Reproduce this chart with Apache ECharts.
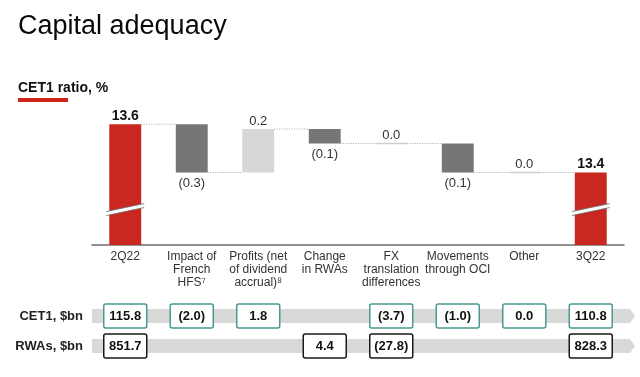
<!DOCTYPE html>
<html>
<head>
<meta charset="utf-8">
<script src="https://cdn.jsdelivr.net/npm/echarts@6/dist/echarts.min.js"></script>
<style>
  html, body { margin: 0; padding: 0; background: #fff; }
  #main { width: 640px; height: 377px; }
</style>
</head>
<body>
<div id="main"></div>
<script>
// categories of the bridge
var categories = ['2Q22', 'Impact of\nFrench\nHFS\u2077', 'Profits (net\nof dividend\naccrual)\u2078',
	'Change\nin RWAs', 'FX\ntranslation\ndifferences', 'Movements\nthrough OCI', 'Other', '3Q22'];
// level reached after each step (as drawn, axis is broken)
var levels = [13.60, 13.30, 13.57, 13.48, 13.48, 13.30, 13.30, 13.30];
var kinds = ['total', 'down', 'up', 'down', 'flat', 'down', 'flat', 'total'];
var ratioLabels = ['13.6', '(0.3)', '0.2', '(0.1)', '0.0', '(0.1)', '0.0', '13.4'];
// table rows
var rowNames = ['CET1, $bn', 'RWAs, $bn'];
var cet1 = ['115.8', '(2.0)', '1.8', '', '(3.7)', '(1.0)', '0.0', '110.8'];
var rwas = ['851.7', '', '', '4.4', '(27.8)', '', '', '828.3'];

var FONT = '"Liberation Sans", Arial, sans-serif';
var axisMin = 12.85, axisMax = 13.75, breakAt = 13.07;
var colors = { total: '#c8281f', down: '#767676', up: '#d7d7d7', flat: '#cfcfcf' };

var bridgeData = [];
for (var i = 0; i < levels.length; i++) {
	var from = kinds[i] == 'total' ? axisMin : levels[i - 1];
	bridgeData.push([i, Math.min(from, levels[i]), Math.max(from, levels[i])]);
}

var tableData = [];
var tableText = [];
for (var i = 0; i < categories.length; i++) {
	if (cet1[i] !== '') { tableData.push([i, 0]); tableText.push(cet1[i]); }
	if (rwas[i] !== '') { tableData.push([i, 1]); tableText.push(rwas[i]); }
}

function renderBridge(params, api) {
	var i = api.value(0);
	var lo = api.value(1), hi = api.value(2);
	var kind = kinds[i];
	var band = api.size([1, 0])[0];
	var bw = band * 0.48;
	var top = api.coord([i, hi]);
	var bot = api.coord([i, lo]);
	var cx = top[0];
	var children = [];
	// dotted connector to next bar
	if (i < levels.length - 1) {
		var yl = api.coord([i, levels[i]])[1];
		children.push({
			type: 'line', silent: true,
			shape: { x1: cx + bw / 2, y1: yl, x2: cx + band - bw / 2, y2: yl },
			style: { stroke: '#a8a8a8', lineWidth: 1, lineDash: [1, 1.5] }
		});
	}
	if (kind == 'flat') {
		children.push({
			type: 'rect',
			shape: { x: cx - bw / 2, y: top[1] - 0.75, width: bw, height: 1.5 },
			style: { fill: colors.flat }
		});
	} else {
		children.push({
			type: 'rect',
			shape: { x: cx - bw / 2, y: top[1], width: bw, height: bot[1] - top[1] },
			style: { fill: colors[kind] }
		});
	}
	if (kind == 'total') {
		var yb = api.coord([i, breakAt])[1];
		var xl = cx - bw / 2 - 3, xr = cx + bw / 2 + 3;
		children.push({
			type: 'polygon',
			shape: { points: [[xl, yb + 2], [xr, yb - 6], [xr, yb - 2], [xl, yb + 6]] },
			style: { fill: '#fff' }
		});
		children.push({
			type: 'line',
			shape: { x1: xl, y1: yb + 2, x2: xr, y2: yb - 6 },
			style: { stroke: '#6a6a6a', lineWidth: 0.8 }
		});
		children.push({
			type: 'line',
			shape: { x1: xl, y1: yb + 6, x2: xr, y2: yb - 2 },
			style: { stroke: '#6a6a6a', lineWidth: 0.8 }
		});
	}
	// value label: above for up/flat/total, below for down
	var below = kind == 'down';
	children.push({
		type: 'text',
		style: {
			text: ratioLabels[i],
			x: cx,
			y: below ? bot[1] + 11 : top[1] - 8,
			align: 'center', verticalAlign: 'middle',
			font: (kind == 'total' ? 'bold 14px ' : '13px ') + FONT,
			fill: kind == 'total' ? '#111' : '#333'
		}
	});
	return { type: 'group', children: children };
}

function renderBand(params, api) {
	var cs = params.coordSys;
	var y = api.coord([0, api.value(1)])[1];
	var x0 = cs.x, x1 = cs.x + cs.width + 6;
	return {
		type: 'polygon', silent: true,
		shape: { points: [[x0, y - 7], [x1, y - 7], [x1 + 5, y], [x1, y + 7], [x0, y + 7]] },
		style: { fill: '#d9d9d9' }
	};
}

function renderBox(params, api) {
	var p = api.coord([api.value(0), api.value(1)]);
	var row = api.value(1);
	var w = 43, h = 24;
	return {
		type: 'group',
		children: [{
			type: 'rect',
			shape: { x: p[0] - w / 2, y: p[1] - h / 2, width: w, height: h, r: 2 },
			style: { fill: '#fff', stroke: row == 0 ? '#4a9891' : '#1a1a1a', lineWidth: 1.5 }
		}, {
			type: 'text',
			style: {
				text: tableText[params.dataIndex],
				x: p[0], y: p[1] + 0.5, align: 'center', verticalAlign: 'middle',
				font: 'bold 13px ' + FONT, fill: '#111'
			}
		}]
	};
}

var myChart = echarts.init(document.getElementById('main'));
var option = {
	animation: false,
	title: [{
		text: 'Capital adequacy', left: 18, top: 13, padding: 0,
		textStyle: { fontFamily: FONT, fontSize: 27, fontWeight: 'normal', color: '#0a0a0a' }
	}, {
		text: 'CET1 ratio, %', left: 18, top: 81, padding: 0,
		textStyle: { fontFamily: FONT, fontSize: 14, fontWeight: 'bold', color: '#111' }
	}],
	graphic: [{
		type: 'rect', left: 18, top: 98, shape: { width: 50, height: 4 }, style: { fill: '#d0241b' }
	}],
	grid: [
		{ left: 92, right: 16, top: 100, height: 145 },
		{ left: 92, right: 16, top: 301, height: 60 }
	],
	xAxis: [{
		type: 'category', gridIndex: 0, data: categories,
		axisLine: { lineStyle: { color: '#6e6e6e', width: 1.5 } },
		axisTick: { show: false },
		axisLabel: { interval: 0, margin: 5, fontFamily: FONT, fontSize: 12, lineHeight: 13, color: '#333' }
	}, {
		type: 'category', gridIndex: 1, data: categories, show: false
	}],
	yAxis: [{
		type: 'value', gridIndex: 0, min: axisMin, max: axisMax, show: false
	}, {
		type: 'category', gridIndex: 1, data: rowNames, inverse: true,
		axisLine: { show: false }, axisTick: { show: false }, splitLine: { show: false },
		axisLabel: { margin: 9, fontFamily: FONT, fontSize: 13, fontWeight: 'bold', color: '#222' }
	}],
	series: [{
		type: 'custom', xAxisIndex: 0, yAxisIndex: 0,
		renderItem: renderBridge, data: bridgeData
	}, {
		type: 'custom', xAxisIndex: 1, yAxisIndex: 1, silent: true,
		renderItem: renderBand, data: [[0, 0], [0, 1]]
	}, {
		type: 'custom', xAxisIndex: 1, yAxisIndex: 1, z: 3,
		renderItem: renderBox, data: tableData
	}]
};
myChart.setOption(option);
</script>
</body>
</html>
